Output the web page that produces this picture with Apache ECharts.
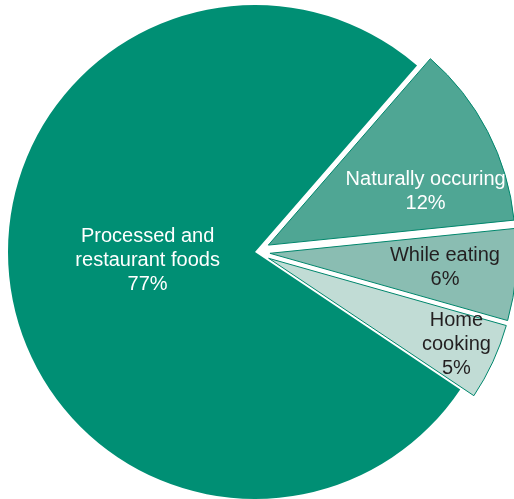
<!DOCTYPE html>
<html>
<head>
<meta charset="utf-8">
<script src="https://cdn.jsdelivr.net/npm/echarts@6/dist/echarts.min.js"></script>
<style>
  html, body { margin: 0; padding: 0; background: #fff; }
  #chart { width: 514px; height: 499px; }
</style>
</head>
<body>
<div id="chart"></div>
<script>
// data, clockwise from the top-right edge of the big slice
const categories = ['Naturally occuring', 'While eating', 'Home\ncooking', 'Processed and\nrestaurant foods'];
const shares = [12, 6, 5, 77];
const pulledOut = [true, true, true, false];

const sliceColors = ['#4fa694', '#8abdb2', '#c1dcd5', '#008f74'];
const labelColors = ['#ffffff', '#231f20', '#231f20', '#ffffff'];
// nudges from the default inside spot to where the labels sit in the figure
const labelShift = [[45, 5], [49, 3], [73, 33], [18, -8]];

const chart = echarts.init(document.getElementById('chart'));

const option = {
    animation: false,
    series: [
        {
            type: 'pie',
            center: [255, 252],
            radius: 247,
            startAngle: 49,
            clockwise: true,
            selectedMode: 'multiple',
            selectedOffset: 15,
            label: {
                show: true,
                position: 'inside',
                formatter: '{b}\n{c}%',
                fontFamily: 'Liberation Sans, Arial, sans-serif',
                fontSize: 20,
                lineHeight: 24,
                align: 'center'
            },
            labelLine: { show: false },
            emphasis: { disabled: true },
            labelLayout: (params) => {
                const s = labelShift[params.dataIndex];
                return { dx: s[0], dy: s[1] };
            },
            data: categories.map((name, i) => ({
                name: name,
                value: shares[i],
                selected: pulledOut[i],
                itemStyle: {
                    color: sliceColors[i],
                    borderColor: i === 3 ? sliceColors[i] : '#00866c',
                    borderWidth: i === 3 ? 0 : 1
                },
                label: { color: labelColors[i] },
                select: {
                    itemStyle: {
                        color: sliceColors[i],
                        borderColor: '#00866c',
                        borderWidth: 1
                    },
                    label: { color: labelColors[i] }
                }
            }))
        }
    ]
};

chart.setOption(option);
</script>
</body>
</html>
